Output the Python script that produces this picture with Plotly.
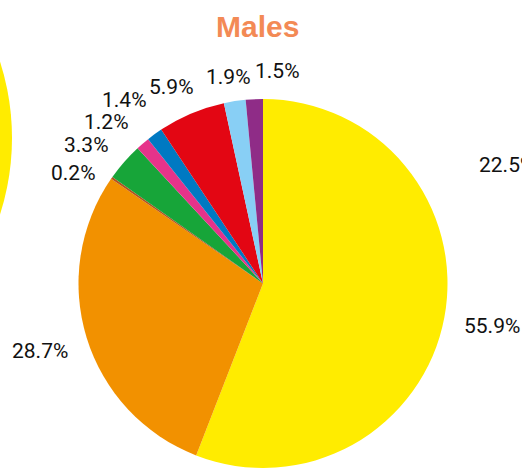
import plotly.graph_objects as go

W, H = 522, 468

# Data (clockwise from 12 o'clock)
categories = ["Cat A", "Cat B", "Cat C", "Cat D", "Cat E", "Cat F", "Cat G", "Cat H", "Cat I"]
values = [55.9, 28.7, 0.2, 3.3, 1.2, 1.4, 5.9, 1.9, 1.5]
value_labels = ["55.9%", "28.7%", "0.2%", "3.3%", "1.2%", "1.4%", "5.9%", "1.9%", "1.5%"]
neighbour_label = "22.5%"
title_text = "Males"

# Styles / positions (pixels)
colors = ["#FFEC00", "#F29100", "#B5531F", "#17A539", "#E6338A",
          "#0079C2", "#E30613", "#88CFF5", "#8F2C87"]
label_px = [(492, 326), (40, 351), (73, 173), (86, 145), (106, 122),
            (124, 100), (171, 87), (228, 77), (277, 71)]
pie_cx, pie_cy, pie_r = 263, 287, 188


def px(x):
    return x / W


def py(y):
    return 1 - y / H


top = pie_cy - pie_r
bottom = min(pie_cy + pie_r, H)
fig = go.Figure(go.Pie(
    labels=categories,
    values=values,
    sort=False,
    direction="clockwise",
    rotation=0,
    marker=dict(colors=colors, line=dict(width=0)),
    textinfo="none",
    hoverinfo="label+percent",
    showlegend=False,
    domain=dict(x=[px(pie_cx - pie_r), px(pie_cx + pie_r)],
                y=[py(bottom), py(top)]),
))

label_font = dict(family="Roboto, Open Sans, sans-serif", size=21, color="#111111")
annotations = []
for txt, (lx, ly) in zip(value_labels, label_px):
    annotations.append(dict(x=px(lx), y=py(ly), xref="paper", yref="paper",
                            text=txt, showarrow=False, xanchor="center",
                            yanchor="middle", font=label_font))
annotations.append(dict(x=px(477), y=py(165), xref="paper", yref="paper",
                        text=neighbour_label, showarrow=False, xanchor="left",
                        yanchor="middle", font=label_font))
annotations.append(dict(x=px(257), y=py(26), xref="paper", yref="paper",
                        text="<b>" + title_text + "</b>", showarrow=False,
                        xanchor="center", yanchor="middle",
                        font=dict(family="Liberation Sans, Arial, sans-serif",
                                  size=30, color="#F38A55")))

# neighbouring (cropped) pie on the left edge
shapes = [dict(type="circle", xref="paper", yref="paper",
               x0=px(-238 - 250), x1=px(-238 + 250),
               y0=py(138 + 250), y1=py(138 - 250),
               fillcolor="#FFEC00", line=dict(width=0), layer="below")]

fig.update_layout(
    width=W, height=H,
    margin=dict(l=0, r=0, t=0, b=0),
    paper_bgcolor="white",
    plot_bgcolor="white",
    annotations=annotations,
    shapes=shapes,
)

fig.write_html(
    "out.html",
    config={"displayModeBar": False},
    post_script="document.body.style.margin='0';document.body.style.overflow='hidden';",
)
